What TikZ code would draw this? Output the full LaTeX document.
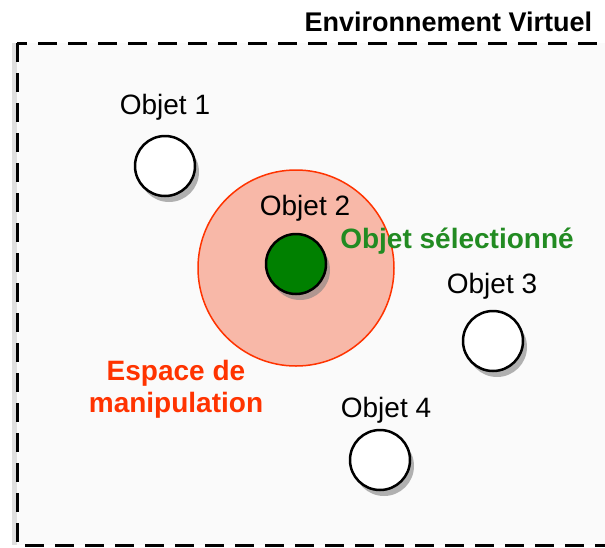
\documentclass[tikz,border=0pt]{standalone}
\usepackage{fontspec}
\setmainfont{Liberation Sans}
\usetikzlibrary{shadows,positioning}
\definecolor{ZoneRed}{RGB}{255,51,0}
\definecolor{ZoneFill}{RGB}{248,184,168}
\definecolor{SelGreen}{RGB}{0,128,0}
\definecolor{SelText}{RGB}{34,139,34}
\definecolor{EnvGray}{RGB}{250,250,250}

\begin{document}
\begin{tikzpicture}[
    x=1pt, y=-1pt,
    every node/.style={font=\fontsize{28}{32}\selectfont},
    objet/.style={circle, draw, line width=2.5pt, fill=white, minimum size=60pt, inner sep=0pt,
      drop shadow={shadow xshift=4pt, shadow yshift=-6pt, opacity=0.6}},
    zone/.style={circle, draw=ZoneRed, line width=1.5pt, fill=ZoneFill, minimum size=196pt, inner sep=0pt}
  ]
    \useasboundingbox (0,0) rectangle (605,547);
    \clip (0,0) rectangle (605,547);

    % environnement
    \draw[dashed, line width=3pt, dash pattern=on 19pt off 11pt, fill=EnvGray,
      drop shadow={shadow xshift=-5pt, shadow yshift=0pt, opacity=0.25}]
      (17,43) rectangle (660,545);
    \node[anchor=west, font=\fontsize{27}{32}\selectfont\bfseries] (titre) at (301,22) {Environnement Virtuel};

    % espace de manipulation
    \node[zone] (espace) at (296,268) {};
    \node[align=center, text=ZoneRed, font=\fontsize{28}{32}\selectfont\bfseries] (espacelbl) at (176,389) {Espace de\\manipulation};

    % objets
    \node[objet] (obj1) at (165,166) {};
    \node[objet, fill=SelGreen] (obj2) at (296,264) {};
    \node[objet] (obj3) at (493,341) {};
    \node[objet] (obj4) at (380,460) {};

    \node (obj1lbl) at (165,107) {Objet 1};
    \node (obj2lbl) at (305,208) {Objet 2};
    \node (obj3lbl) at (492,286) {Objet 3};
    \node (obj4lbl) at (386,410) {Objet 4};
    \node[text=SelText, font=\fontsize{28}{32}\selectfont\bfseries] (sellbl) at (457,241) {Objet sélectionné};
\end{tikzpicture}
\end{document}
